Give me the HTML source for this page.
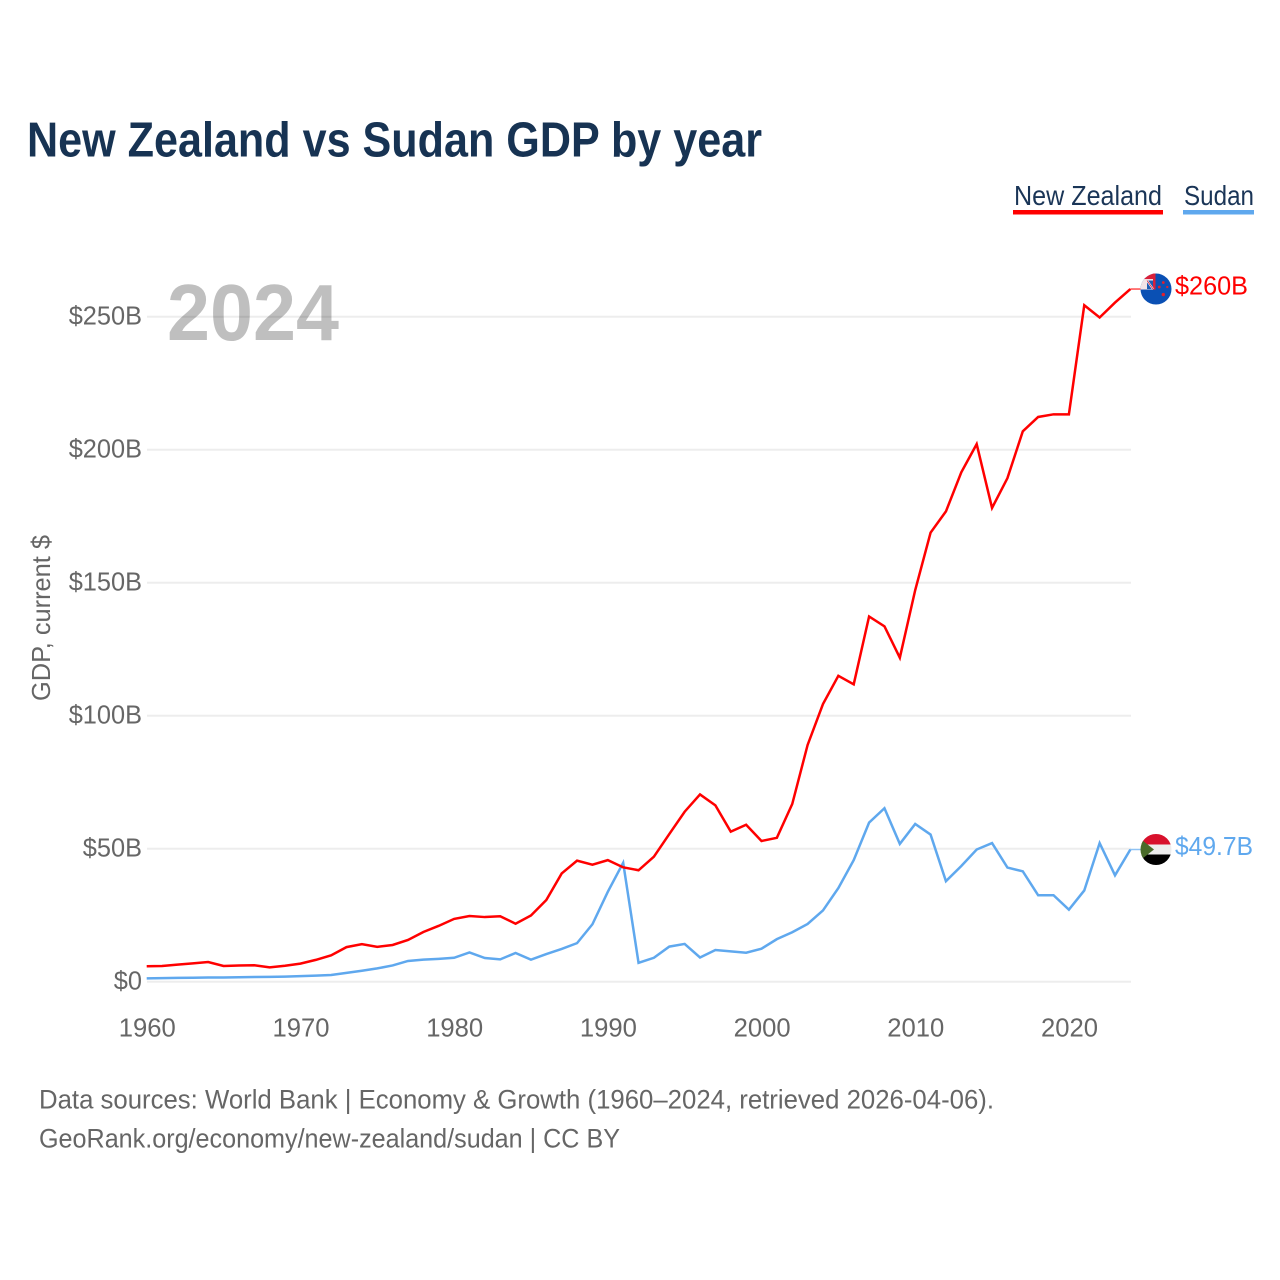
<!DOCTYPE html>
<html lang="en">
<head>
<meta charset="utf-8">
<title>New Zealand vs Sudan GDP by year</title>
<style>
html,body{margin:0;padding:0;background:#fff;}
svg{display:block;font-family:"Liberation Sans",sans-serif;}
</style>
</head>
<body>
<svg id="chart" xmlns="http://www.w3.org/2000/svg" width="1280" height="1280" viewBox="0 0 1280 1280">
  <defs>
    <clipPath id="flag-clip"><circle cx="0" cy="0" r="15.5"/></clipPath>
  </defs>
  <rect x="0" y="0" width="1280" height="1280" fill="#ffffff"/>
  <text x="27" y="156.5" font-size="49" font-weight="700" fill="#173353" textLength="735" lengthAdjust="spacingAndGlyphs">New Zealand vs Sudan GDP by year</text>

  <g>
    <text x="1014" y="205" font-size="27.5" fill="#1a3557" textLength="148" lengthAdjust="spacingAndGlyphs">New Zealand</text>
    <rect x="1013" y="210" width="150" height="4.5" fill="#ff0000"/>
    <text x="1184" y="205" font-size="27.5" fill="#1a3557" textLength="70" lengthAdjust="spacingAndGlyphs">Sudan</text>
    <rect x="1183" y="210" width="71" height="4.5" fill="#5fa8ee"/>
  </g>

  <g id="grid"></g>
  <text x="167" y="340" font-size="80" font-weight="700" fill="#000000" fill-opacity="0.25" textLength="172" lengthAdjust="spacingAndGlyphs">2024</text>
  <g id="y-ticks"></g>
  <g id="x-ticks"></g>
  <text transform="translate(50,618) rotate(-90)" text-anchor="middle" font-size="26" fill="#666666" textLength="166" lengthAdjust="spacingAndGlyphs">GDP, current $</text>

  <g id="series"></g>

  <g id="flag-nz">
    <g clip-path="url(#flag-clip)">
      <rect x="-16" y="-16" width="32" height="32" fill="#0a50b4"/>
      <rect x="-16" y="-16" width="15.5" height="16.5" fill="#f3e3e6"/>
      <rect x="-16" y="-16" width="15.5" height="6" fill="#d9203a"/>
      <rect x="-3" y="-16" width="2.5" height="16.5" fill="#d9203a"/>
      <rect x="-9" y="-8.5" width="6" height="8.5" fill="#1d5cb4"/>
      <path d="M-9 -8.5 L-3 0" stroke="#ffffff" stroke-width="2"/>
      <path d="M-9 -8.5 L-3 0" stroke="#d9203a" stroke-width="0.8"/>
      <circle cx="3.3" cy="-2" r="1.4" fill="#e2202c"/>
      <circle cx="7.3" cy="-6.5" r="1.4" fill="#e2202c"/>
      <circle cx="11.3" cy="-2" r="1.2" fill="#e2202c"/>
      <circle cx="7.3" cy="5.5" r="1.7" fill="#e2202c"/>
    </g>
  </g>
  <g id="flag-sd">
    <g clip-path="url(#flag-clip)">
      <rect x="-16" y="-16" width="32" height="11" fill="#d8112c"/>
      <rect x="-16" y="-5" width="32" height="10.5" fill="#eeeeee"/>
      <rect x="-16" y="5" width="32" height="11" fill="#000000"/>
      <path d="M-16 -11 L-2 0 L-16 11 Z" fill="#4a6b2a"/>
    </g>
  </g>
  <g id="end-labels"></g>

  <text x="39" y="1108.5" font-size="26.5" fill="#666666" textLength="955" lengthAdjust="spacingAndGlyphs">Data sources: World Bank | Economy &amp; Growth (1960–2024, retrieved 2026-04-06).</text>
  <text x="39" y="1147.5" font-size="26.5" fill="#666666" textLength="581" lengthAdjust="spacingAndGlyphs">GeoRank.org/economy/new-zealand/sudan | CC BY</text>
</svg>
<script>
const years = [1960,1961,1962,1963,1964,1965,1966,1967,1968,1969,1970,1971,1972,1973,1974,1975,1976,1977,1978,1979,1980,1981,1982,1983,1984,1985,1986,1987,1988,1989,1990,1991,1992,1993,1994,1995,1996,1997,1998,1999,2000,2001,2002,2003,2004,2005,2006,2007,2008,2009,2010,2011,2012,2013,2014,2015,2016,2017,2018,2019,2020,2021,2022,2023,2024];
const newZealandGdp = [5.8,5.9,6.4,6.9,7.4,5.9,6.1,6.2,5.4,6.0,6.8,8.2,9.9,13.0,14.1,13.1,13.8,15.7,18.7,21.0,23.6,24.7,24.3,24.6,21.8,24.9,30.7,40.7,45.5,44.0,45.7,43.0,41.9,47.0,55.5,63.9,70.4,66.3,56.4,59.0,52.9,54.1,66.8,89.0,104.4,115.0,111.8,137.3,133.6,121.8,147.2,168.8,176.8,191.5,202.1,178.1,189.3,206.9,212.3,213.3,213.3,254.3,249.7,255.3,260.4];
const sudanGdp = [1.25,1.35,1.45,1.5,1.6,1.6,1.65,1.75,1.8,1.9,2.1,2.3,2.5,3.3,4.1,5.0,6.1,7.8,8.3,8.6,9.0,11.0,8.9,8.4,10.8,8.3,10.4,12.3,14.5,21.6,33.8,44.7,7.1,9.0,13.2,14.2,9.1,11.9,11.4,10.9,12.4,16.0,18.6,21.7,26.8,35.2,45.7,59.8,65.2,51.8,59.3,55.3,37.8,43.5,49.7,52.1,42.9,41.5,32.5,32.5,27.1,34.3,52.1,40.0,49.7];
const yTickValues = [0,50,100,150,200,250];
const yTickLabels = ["$0","$50B","$100B","$150B","$200B","$250B"];
const xTickValues = [1960,1970,1980,1990,2000,2010,2020];
const xTickLabels = ["1960","1970","1980","1990","2000","2010","2020"];
const endLabels = ["$260B","$49.7B"];

const NS = "http://www.w3.org/2000/svg";
function xScale(year){ return 146.7 + (year - 1960) * 15.37; }
function yScale(value){ return 981.7 - value * 2.66; }
const FLAG_X = 1156;
const NZ_COLOR = "#ff0000";
const SD_COLOR = "#5fa8ee";

function make(tag, parent, attrs){
  const el = document.createElementNS(NS, tag);
  for (const k in attrs) el.setAttribute(k, attrs[k]);
  parent.appendChild(el);
  return el;
}

const gridG = document.getElementById("grid");
const yG = document.getElementById("y-ticks");
yTickValues.forEach(function(v, i){
  const line = make("line", gridG, {x1:147, x2:1131, y1:yScale(v), y2:yScale(v), stroke:"#ededed", "stroke-width":2});
  
  
  const t = make("text", yG, {x:142, y:yScale(v)+8, "text-anchor":"end", "font-size":26, fill:"#666666"});
  t.textContent = yTickLabels[i];
  
  
  t.setAttribute("textLength", (t.getComputedTextLength() * 0.975).toFixed(1));
  t.setAttribute("lengthAdjust", "spacingAndGlyphs");
});

const xG = document.getElementById("x-ticks");
xTickValues.forEach(function(v, i){
  const t = make("text", xG, {x:xScale(v)+0.6, y:1036.5, "text-anchor":"middle", "font-size":26, fill:"#666666", textLength:57, lengthAdjust:"spacingAndGlyphs"});
  t.textContent = xTickLabels[i];
  
  
});

function points(values){
  return values.map(function(v, i){ return xScale(years[i]).toFixed(2) + "," + yScale(v).toFixed(2); }).join(" ");
}
const seriesG = document.getElementById("series");

const sdLine = make("polyline", seriesG, {points:points(sudanGdp), fill:"none", stroke:SD_COLOR, "stroke-width":2.5, "stroke-linejoin":"miter"});


const nzLine = make("polyline", seriesG, {points:points(newZealandGdp), fill:"none", stroke:NZ_COLOR, "stroke-width":2.5, "stroke-linejoin":"miter"});



const lastNz = newZealandGdp[newZealandGdp.length - 1];
const lastSd = sudanGdp[sudanGdp.length - 1];
const lastX = xScale(years[years.length - 1]);

const nzConn = make("line", seriesG, {x1:lastX, x2:FLAG_X-15, y1:yScale(lastNz), y2:yScale(lastNz), stroke:NZ_COLOR, "stroke-width":1.5, "stroke-opacity":0.7});


const sdConn = make("line", seriesG, {x1:lastX, x2:FLAG_X-15, y1:yScale(lastSd), y2:yScale(lastSd), stroke:SD_COLOR, "stroke-width":1.5, "stroke-opacity":0.7});



document.getElementById("flag-nz").setAttribute("transform", "translate(" + FLAG_X + "," + yScale(lastNz) + ")");
document.getElementById("flag-sd").setAttribute("transform", "translate(" + FLAG_X + "," + yScale(lastSd) + ")");

const endG = document.getElementById("end-labels");
const nzEnd = make("text", endG, {x:1175, y:yScale(lastNz)+5.5, "font-size":26, fill:NZ_COLOR, textLength:73, lengthAdjust:"spacingAndGlyphs"});
nzEnd.textContent = endLabels[0];


const sdEnd = make("text", endG, {x:1175, y:yScale(lastSd)+5.5, "font-size":26, fill:SD_COLOR, textLength:78, lengthAdjust:"spacingAndGlyphs"});
sdEnd.textContent = endLabels[1];


</script>
</body>
</html>
